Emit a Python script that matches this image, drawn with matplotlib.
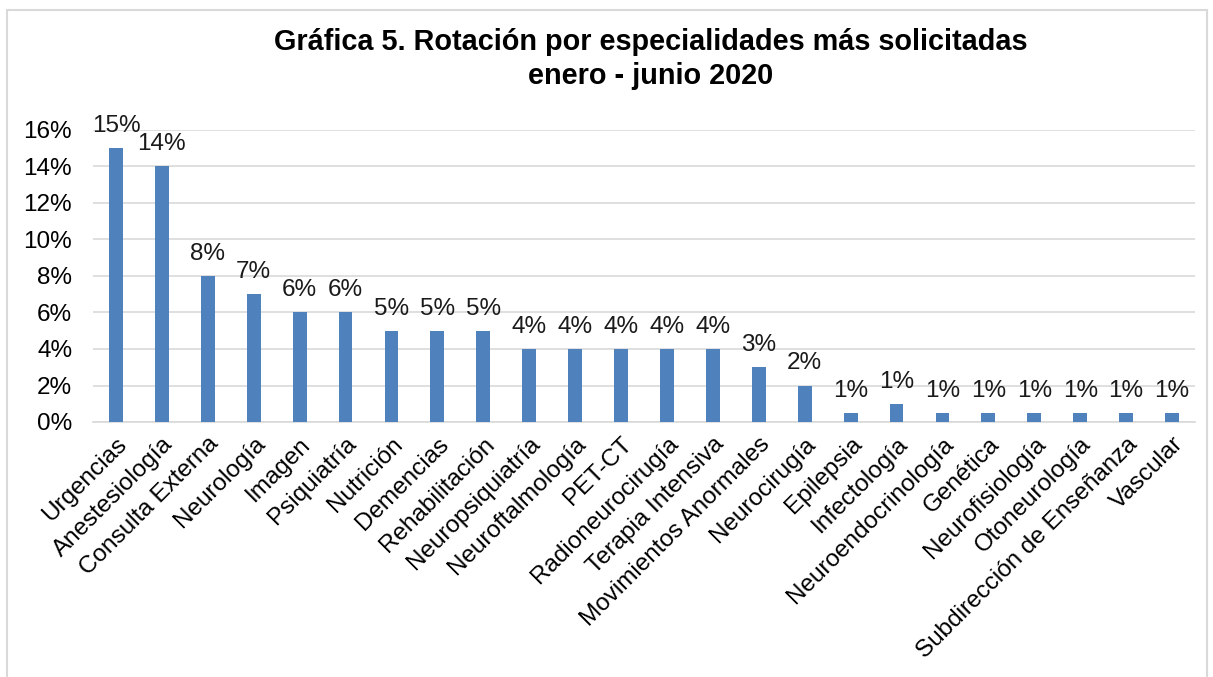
import matplotlib.pyplot as plt
from matplotlib.patches import Rectangle

plt.rcParams['font.family'] = ['Liberation Sans', 'DejaVu Sans']

especialidades = ['Urgencias', 'Anestesiología', 'Consulta Externa', 'Neurología', 'Imagen',
                  'Psiquiatría', 'Nutrición', 'Demencias', 'Rehabilitación', 'Neuropsiquiatría',
                  'Neuroftalmología', 'PET-CT', 'Radioneurocirugía', 'Terapia Intensiva',
                  'Movimientos Anormales', 'Neurocirugía', 'Epilepsia', 'Infectología',
                  'Neuroendocrinología', 'Genética', 'Neurofisiología', 'Otoneurología',
                  'Subdirección de Enseñanza', 'Vascular']
porcentajes = [15, 14, 8, 7, 6, 6, 5, 5, 5, 4, 4, 4, 4, 4, 3, 2, 0.5, 1, 0.5, 0.5, 0.5, 0.5, 0.5, 0.5]
etiquetas = ['15%', '14%', '8%', '7%', '6%', '6%', '5%', '5%', '5%', '4%', '4%', '4%', '4%', '4%',
             '3%', '2%', '1%', '1%', '1%', '1%', '1%', '1%', '1%', '1%']
yticks = [0, 2, 4, 6, 8, 10, 12, 14, 16]

fig = plt.figure(figsize=(12.13, 6.77), dpi=100)
fig.patches.append(Rectangle((7 / 1213, -0.1), 1200 / 1213, 1.1 - 10 / 677,
                             transform=fig.transFigure, fill=False,
                             edgecolor='#d9d9d9', linewidth=1.5))

ax = fig.add_axes([93 / 1213, 1 - 422 / 677, 1102 / 1213, 292 / 677])
x = range(len(especialidades))
bars = ax.bar(x, porcentajes, width=0.3, color='#4f81bd', zorder=3)

for b, txt in zip(bars, etiquetas):
    ax.annotate(txt, (b.get_x() + b.get_width() / 2, b.get_height()),
                xytext=(0, 8), textcoords='offset points',
                ha='center', va='bottom', fontsize=17.5, color='#1a1a1a')

ax.set_xlim(-0.5, len(especialidades) - 0.5)
ax.set_ylim(0, 16)
ax.set_yticks(yticks)
ax.set_yticklabels([f'{v}%' for v in yticks], fontsize=17.5)
ax.set_xticks(list(x))
ax.set_xticklabels(especialidades, rotation=45, ha='right', rotation_mode='anchor', fontsize=17.5)
ax.tick_params(axis='x', length=0, pad=8)
ax.tick_params(axis='y', length=0, pad=15)
ax.grid(axis='y', color='#d9d9d9', linewidth=1.2, zorder=0)
for s in ['left', 'right', 'top']:
    ax.spines[s].set_visible(False)
ax.spines['bottom'].set_color('#d9d9d9')
ax.spines['bottom'].set_linewidth(1.2)

fig.text(651 / 1213, 1 - 59 / 677, 'Gráfica 5. Rotación por especialidades más solicitadas\nenero - junio 2020',
         ha='center', va='center', fontsize=20.8, fontweight='bold', linespacing=1.25)

fig.savefig('out.png', dpi=100)
